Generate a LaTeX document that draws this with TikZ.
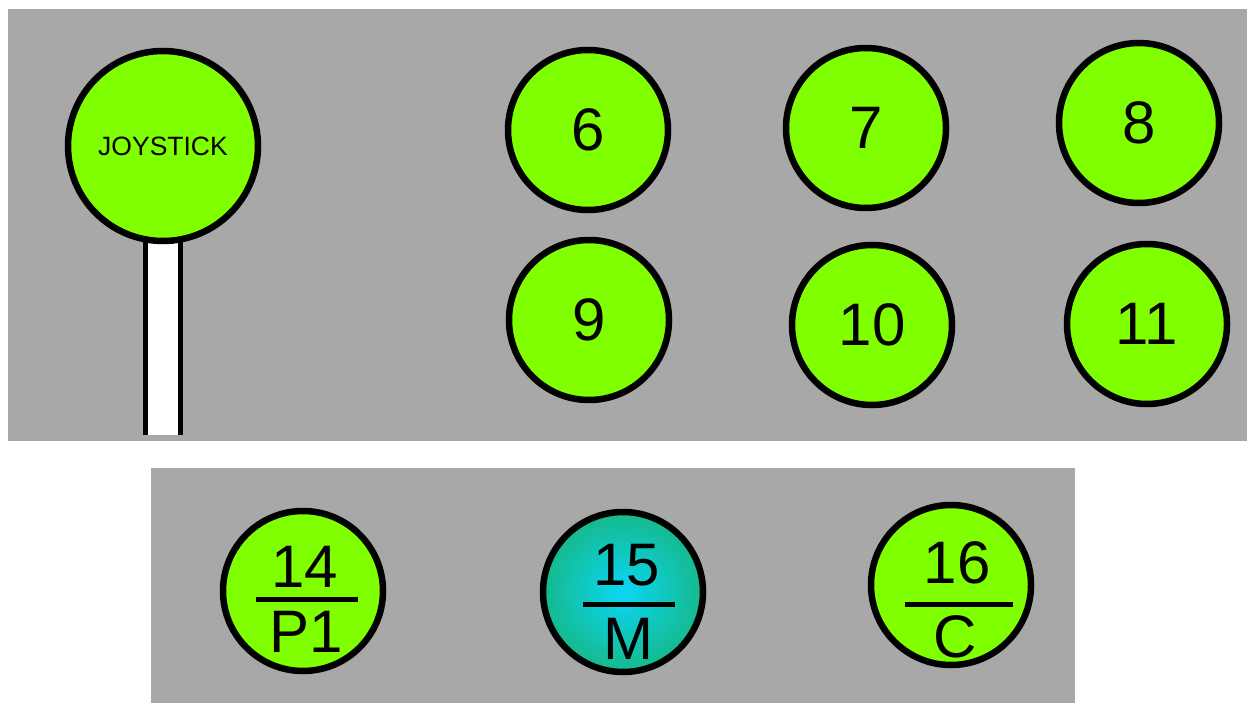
\documentclass[tikz,border=0pt]{standalone}
\usepackage{fontspec}
\setmainfont{Liberation Sans}
\definecolor{panelgray}{RGB}{168,168,168}
\definecolor{btngreen}{RGB}{128,255,0}
\definecolor{mcenter}{RGB}{10,215,245}
\definecolor{medge}{RGB}{22,185,140}
\begin{document}
\begin{tikzpicture}[x=1pt,y=-1pt,
  btn/.style={circle,draw=black,line width=6.5pt,minimum size=160pt,inner sep=0pt,fill=btngreen,
    font=\fontsize{60}{62}\selectfont},
  lbl/.style={inner sep=0pt,anchor=center,font=\fontsize{60}{62}\selectfont},
  bar/.style={line width=5pt}]
\useasboundingbox (0,0) rectangle (1247,703);
\fill[white] (0,0) rectangle (1247,703);
% panels
\fill[panelgray] (8,9) rectangle (1247,441);
\fill[panelgray] (151,468) rectangle (1075,703);
% joystick stick
\fill[white] (145.5,236) rectangle (180.5,435);
\draw[line width=5pt] (145.5,236) -- (145.5,435);
\draw[line width=5pt] (180.5,236) -- (180.5,435);
% joystick head
\node[btn,minimum size=190pt,font=\fontsize{26.5}{28}\selectfont] (joy) at (163,146) {JOYSTICK};
% top buttons
\node[btn] (b6) at (588,130) {6};
\node[btn] (b7) at (866,128) {7};
\node[btn] (b8) at (1139,123) {8};
\node[btn] (b9) at (589,320) {9};
\node[btn] (b10) at (872,325) {10};
\node[btn] (b11) at (1147,324) {11};
% bottom buttons
\node[btn] (b14) at (303,591) {};
\node[lbl] (t14) at (305,567) {14};
\node[lbl] (p14) at (306,632) {P1};
\draw[bar] (256,599) -- (358,599);
\node[btn,inner color=mcenter,outer color=medge] (b15) at (623,592) {};
\node[lbl] (t15) at (627,565) {15};
\node[lbl] (p15) at (628,639) {M};
\draw[bar] (583,604) -- (675,604);
\node[btn] (b16) at (951,585) {};
\node[lbl] (t16) at (957,563) {16};
\node[lbl] (p16) at (955,637) {C};
\draw[bar] (905,604) -- (1013,604);
\end{tikzpicture}
\end{document}
